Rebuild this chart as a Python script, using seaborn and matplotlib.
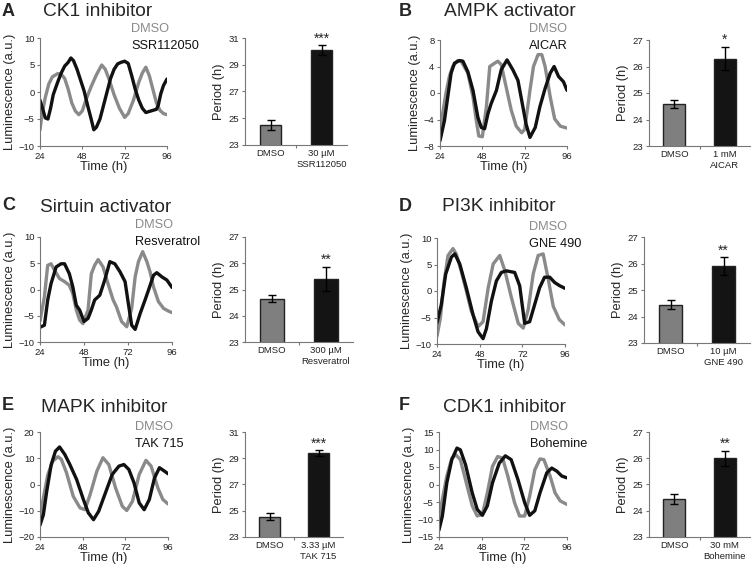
import numpy as np
import matplotlib
matplotlib.use('Agg')
import matplotlib.pyplot as plt
import seaborn as sns

# ---- luminescence traces (time in h, a.u.) ----
a_t_dmso = [24, 25, 27, 29, 31, 34, 36, 38, 40, 42, 44, 46, 48, 50, 53, 56, 59, 61, 63, 66, 69, 72, 74, 77, 80, 82, 84, 86, 88, 90, 92, 94, 96]
a_v_dmso = [-7, -4.5, -1, 1.5, 2.8, 3.4, 3.3, 2.5, 0.5, -2, -3.5, -4.2, -3.5, -1.5, 1, 3.2, 5, 4.2, 2.5, -0.5, -3, -4.7, -4, -1.5, 1.8, 3.5, 4.6, 3, 0.5, -2, -3.4, -4, -4.2]
a_t_drug = [24, 25.5, 27, 28.5, 30, 31.5, 34, 36, 38, 40, 41.5, 43, 45, 47, 49, 51, 53, 54.5, 56, 58, 60, 62, 64, 66, 68, 70, 72, 74, 76, 78, 80, 82, 84, 86, 88, 90, 91, 92.5, 94, 96]
a_v_drug = [-1.5, -3.1, -4.8, -5, -3, -0.5, 1.8, 3.5, 4.8, 5.5, 6.3, 5.8, 4.2, 2.2, 0.2, -2.5, -5, -7, -6.5, -5, -2.5, 0, 2.5, 4.2, 5.2, 5.5, 5.7, 5.3, 3, 0.5, -1.5, -3, -3.8, -3.6, -3.4, -3.2, -2.5, -0.3, 1.2, 2.4]

b_t_dmso = [24, 25.5, 27.4, 29.3, 31.2, 34, 36, 39.8, 42.7, 44.6, 46, 48, 50.3, 52.2, 55, 56.8, 58.7, 61.5, 64.4, 67.2, 70.3, 72, 75, 77, 79.6, 81.7, 83.6, 86.5, 89, 92.2, 96]
b_v_dmso = [-7, -3.1, 0, 2.5, 4, 4.9, 4.8, 3, -0.6, -4.2, -6.5, -6.6, -2.1, 4, 4.5, 4.8, 4.3, 0.9, -2.6, -5, -6, -5.5, 0.4, 4, 5.8, 5.8, 4, -0.6, -3.9, -5, -5.3]
b_t_drug = [24, 26.5, 28.4, 30.3, 32.2, 35, 37, 39.8, 42.7, 45.5, 47.4, 49.3, 51.2, 53, 56, 58.7, 62, 65.3, 68.2, 70.3, 72.8, 75, 78, 80.6, 83.6, 86.5, 88.7, 91.2, 94, 96]
b_v_drug = [-7.2, -4.2, -0.6, 3, 4.5, 4.9, 4.8, 3.2, 0.4, -3.7, -5.2, -5.4, -3.1, -1.6, 0.4, 3.5, 5, 3.5, 1.9, -1.1, -4.7, -6.7, -5.2, -2.1, 0.7, 3, 4, 2.5, 1.7, 0.4]

c_t_dmso = [24, 26.4, 28.2, 30, 31.9, 34.6, 37.4, 40, 41.9, 43.8, 45.6, 47.4, 50.2, 52, 53.8, 55.7, 58.4, 61.1, 63.9, 65.7, 68.5, 71.3, 74, 75.9, 77.7, 80, 82.3, 84, 85.9, 88.6, 91.4, 94, 96]
c_v_dmso = [-6, -1.4, 4.6, 4.9, 3.7, 2.1, 1.5, 0.8, -0.8, -3.9, -5.8, -6.5, -3.9, 3, 4.6, 5.7, 4.3, 1.1, -2, -3.3, -6.1, -7.1, -3.6, 2.4, 5.3, 7.2, 5.3, 3.4, 0.5, -2.3, -3.6, -4.1, -4.4]
c_t_drug = [24, 26.4, 28.2, 30, 32.8, 35.5, 37.4, 40, 41.9, 43.8, 45.6, 48, 50.2, 52, 53.8, 56.6, 59.3, 62.1, 64.8, 67.6, 70.4, 72.2, 74, 75.9, 78.6, 81.3, 83.2, 85.9, 87.7, 90.5, 93.2, 96]
c_v_drug = [-7.2, -6.8, -2, 1.1, 4.3, 4.9, 4.9, 3, 0.5, -3, -3.9, -6.1, -5.5, -3.9, -2, -1.1, 1.8, 5.3, 4.9, 3.4, 1.5, -2.7, -6.8, -7.6, -4.6, -2, -0.1, 2.7, 3.2, 2.4, 1.8, 0.4]

d_t_dmso = [24, 25.9, 27.8, 30.2, 33, 34.8, 37.6, 40.5, 43.3, 47.1, 49.9, 52.8, 55.6, 59.3, 62.2, 65.9, 69.7, 72.5, 75.3, 78.1, 80.9, 83.7, 86.6, 89.4, 92.8, 96]
d_v_dmso = [-8.5, -5.1, 1.3, 6.7, 8, 7, 3.8, 0, -3.8, -6.7, -5.8, 0.6, 5.1, 6.7, 3.8, -1.3, -6.1, -7, -3.5, 3.2, 6.7, 7, 2.2, -2.9, -5.4, -6.4]
d_t_drug = [24, 26.4, 28.9, 32.1, 34, 36.8, 40.5, 44.3, 47.1, 49.9, 51.8, 54.6, 57.4, 60.2, 63, 67.7, 70.5, 73.3, 76.1, 78.9, 81.7, 84.5, 87.4, 90.2, 93, 96]
d_v_drug = [-6, -2.6, 3.2, 6.4, 7, 5.1, 0.6, -4.5, -7.7, -9, -7.1, -1.9, 1.9, 3.5, 3.8, 3.5, 1, -6.1, -5.8, -2.6, 0.6, 2.6, 2.6, 1.6, 1, 0.5]

e_t_dmso = [24, 25.9, 28.4, 31.2, 34.1, 36, 38.9, 42.7, 46.5, 49.3, 52.2, 56, 59.4, 62.7, 66.5, 70.3, 72.8, 76, 79.8, 83.6, 86.5, 90.3, 93.1, 96]
e_v_dmso = [-13, -5.1, 3.8, 8.9, 10.6, 9.6, 4.5, -4.5, -8.9, -9.6, -3.8, 5.1, 10.2, 7.6, -1.3, -8.3, -9.9, -6.4, 3.8, 9.2, 7, -1.3, -5.7, -7.4]
e_t_drug = [24, 25.9, 27.8, 30.3, 32.7, 35, 37.9, 40.8, 44.6, 48.4, 51.2, 54.1, 57, 60.8, 64.6, 68.4, 71.2, 74, 76.9, 79.8, 82.6, 85.5, 88.4, 91.2, 94, 96]
e_v_drug = [-15.5, -11.5, -2.5, 7.6, 12.7, 14.3, 11.5, 7.6, 1.9, -5.7, -10.8, -13.4, -10.2, -3.2, 3.8, 7, 7.6, 5.7, 0.6, -7, -9.6, -5.7, 2.5, 6.4, 5.1, 4.1]

f_t_dmso = [24, 25.9, 28.4, 31.2, 33.5, 36, 38.9, 42.7, 45.5, 48.4, 51.2, 54.1, 57, 59.8, 62.7, 66.5, 69.3, 72.2, 75, 77.9, 80.8, 83, 86.5, 89.3, 92.2, 96]
f_v_dmso = [-10, -4.2, 2.4, 7.5, 8.5, 7.1, 1.4, -6.1, -9, -8.5, -2.4, 5.2, 8, 7.5, 2.4, -5.2, -9, -9, -3.3, 4.2, 7.3, 7.1, 2.4, -2.4, -4.7, -5.7]
f_t_drug = [24, 25.9, 28.4, 31.2, 34.1, 36, 38.9, 42.7, 45.5, 48.4, 51.2, 54.1, 57.9, 61.3, 64.6, 68.4, 72.2, 75, 77.9, 80.8, 84.6, 87.4, 90.3, 93.1, 96]
f_v_drug = [-13, -9, 0.5, 7.1, 10.4, 9.9, 5.7, -2.4, -7.1, -8.8, -6.1, 0.5, 6.1, 8.2, 7.1, 1.4, -5.2, -8.8, -7.5, -2.4, 3.3, 4.7, 3.8, 2.4, 1.9]

# ---- period bars (mean, sem) ----
letters = ['A', 'B', 'C', 'D', 'E', 'F']
titles = ['CK1 inhibitor', 'AMPK activator', 'Sirtuin activator', 'PI3K inhibitor', 'MAPK inhibitor', 'CDK1 inhibitor']
drugs = ['SSR112050', 'AICAR', 'Resveratrol', 'GNE 490', 'TAK 715', 'Bohemine']
doses = ['30 µM', '1 mM', '300 µM', '10 µM', '3.33 µM', '30 mM']
period_dmso = [24.5, 24.6, 24.65, 24.45, 24.55, 24.45]
sem_dmso = [0.35, 0.15, 0.13, 0.18, 0.25, 0.18]
period_drug = [30.1, 26.3, 25.4, 25.9, 29.4, 26.0]
sem_drug = [0.35, 0.45, 0.45, 0.33, 0.2, 0.28]
stars = ['***', '*', '**', '**', '***', '**']
bar_top = [31, 27, 27, 27, 31, 27]
bar_step = [2, 1, 1, 1, 2, 1]

lum_lim = [10, 8, 10, 10, 20, 15]
lum_step = [5, 4, 5, 5, 10, 5]

traces = [(a_t_dmso, a_v_dmso, a_t_drug, a_v_drug),
          (b_t_dmso, b_v_dmso, b_t_drug, b_v_drug),
          (c_t_dmso, c_v_dmso, c_t_drug, c_v_drug),
          (d_t_dmso, d_v_dmso, d_t_drug, d_v_drug),
          (e_t_dmso, e_v_dmso, e_t_drug, e_v_drug),
          (f_t_dmso, f_v_dmso, f_t_drug, f_v_drug)]

# layout in pixels (left, top, right, bottom)
line_box = [(40, 38, 167, 146), (440, 40, 567, 146), (40, 237, 172, 342),
            (437, 238, 565, 344), (40, 432, 168, 537), (439, 432, 567, 537)]
bar_box = [(245, 38, 347, 145), (649, 40, 750, 146), (245, 237, 353, 342),
           (644, 237, 750, 343), (245, 432, 343, 537), (649, 432, 750, 537)]
letter_xy = [(2, 11), (399, 11), (2, 205), (399, 206), (2, 405), (399, 406)]
title_xy = [(43, 11), (444, 11), (40, 207), (442, 206), (41, 407), (443, 407)]
legend_xy = [(131, 29), (529, 29), (135, 225), (529, 227), (135, 427), (530, 427)]

W, H = 754, 568
GRAY = '#8a8a8a'
DARK = '#111111'

sns.set_style('ticks')
plt.rcParams['font.family'] = ['Liberation Sans', 'DejaVu Sans']
plt.rcParams['axes.edgecolor'] = '#777777'
plt.rcParams['xtick.color'] = '#777777'
plt.rcParams['ytick.color'] = '#777777'
plt.rcParams['xtick.labelcolor'] = '#222222'
plt.rcParams['ytick.labelcolor'] = '#222222'

fig = plt.figure(figsize=(W / 100, H / 100), dpi=100)


def px_axes(box):
    l, t, r, b = box
    return fig.add_axes([l / W, 1 - b / H, (r - l) / W, (b - t) / H])


for i in range(6):
    # luminescence traces
    ax = px_axes(line_box[i])
    t1, v1, t2, v2 = traces[i]
    sns.lineplot(x=t1, y=v1, ax=ax, color=GRAY, lw=2.4, estimator=None, sort=False)
    sns.lineplot(x=t2, y=v2, ax=ax, color=DARK, lw=2.4, estimator=None, sort=False)
    ax.set_xlim(24, 96)
    ax.set_ylim(-lum_lim[i], lum_lim[i])
    ax.set_xticks([24, 48, 72, 96])
    ax.set_yticks(np.arange(-lum_lim[i], lum_lim[i] + 0.1, lum_step[i]))
    ax.tick_params(labelsize=6.8, length=2.5, width=0.8, pad=1.5)
    ax.set_xlabel('Time (h)', fontsize=9.3, labelpad=0)
    ax.set_ylabel('Luminescence (a.u.)', fontsize=9.3, labelpad=2)
    for s in ['top', 'right']:
        ax.spines[s].set_visible(False)
    for s in ['left', 'bottom']:
        ax.spines[s].set_linewidth(0.8)

    lx, ly = legend_xy[i]
    fig.text(lx / W, 1 - ly / H, 'DMSO', color=GRAY, fontsize=9.2, va='center', ha='left')
    fig.text(lx / W, 1 - (ly + 17) / H, drugs[i], color=DARK, fontsize=9.2, va='center', ha='left')

    # period bars
    bx = px_axes(bar_box[i])
    cats = ['DMSO', doses[i] + '\n' + drugs[i]]
    means = [period_dmso[i], period_drug[i]]
    errs = [sem_dmso[i], sem_drug[i]]
    sns.barplot(x=cats, y=means, hue=cats, palette=['#7f7f7f', '#141414'], ax=bx,
                width=0.43, edgecolor='#222222', linewidth=1, legend=False, errorbar=None)
    bx.errorbar([0, 1], means, yerr=errs, fmt='none', ecolor='black', elinewidth=1,
                capsize=3, capthick=1)
    bx.set_xlim(-0.5, 1.5)
    bx.set_ylim(23, bar_top[i])
    bx.set_yticks(np.arange(23, bar_top[i] + 0.1, bar_step[i]))
    bx.set_xticks([0.5], minor=True)
    bx.tick_params(axis='x', which='major', length=0, labelsize=6.8, pad=3)
    bx.tick_params(axis='x', which='minor', length=2.5, width=0.8)
    bx.tick_params(axis='y', labelsize=6.8, length=2.5, width=0.8, pad=1.5)
    bx.set_ylabel('Period (h)', fontsize=9.3, labelpad=3)
    bx.set_xlabel('')
    for s in ['top', 'right']:
        bx.spines[s].set_visible(False)
    for s in ['left', 'bottom']:
        bx.spines[s].set_linewidth(0.8)
    bx.annotate(stars[i], xy=(1, means[1] + errs[1]), xytext=(0, 0),
                textcoords='offset points', ha='center', va='bottom', fontsize=10)

    # panel letter and title
    x, y = letter_xy[i]
    fig.text(x / W, 1 - y / H, letters[i], fontsize=13, fontweight='bold', va='center', ha='left')
    x, y = title_xy[i]
    fig.text(x / W, 1 - y / H, titles[i], fontsize=13.8, va='center', ha='left')

fig.savefig('out.png', dpi=100)
